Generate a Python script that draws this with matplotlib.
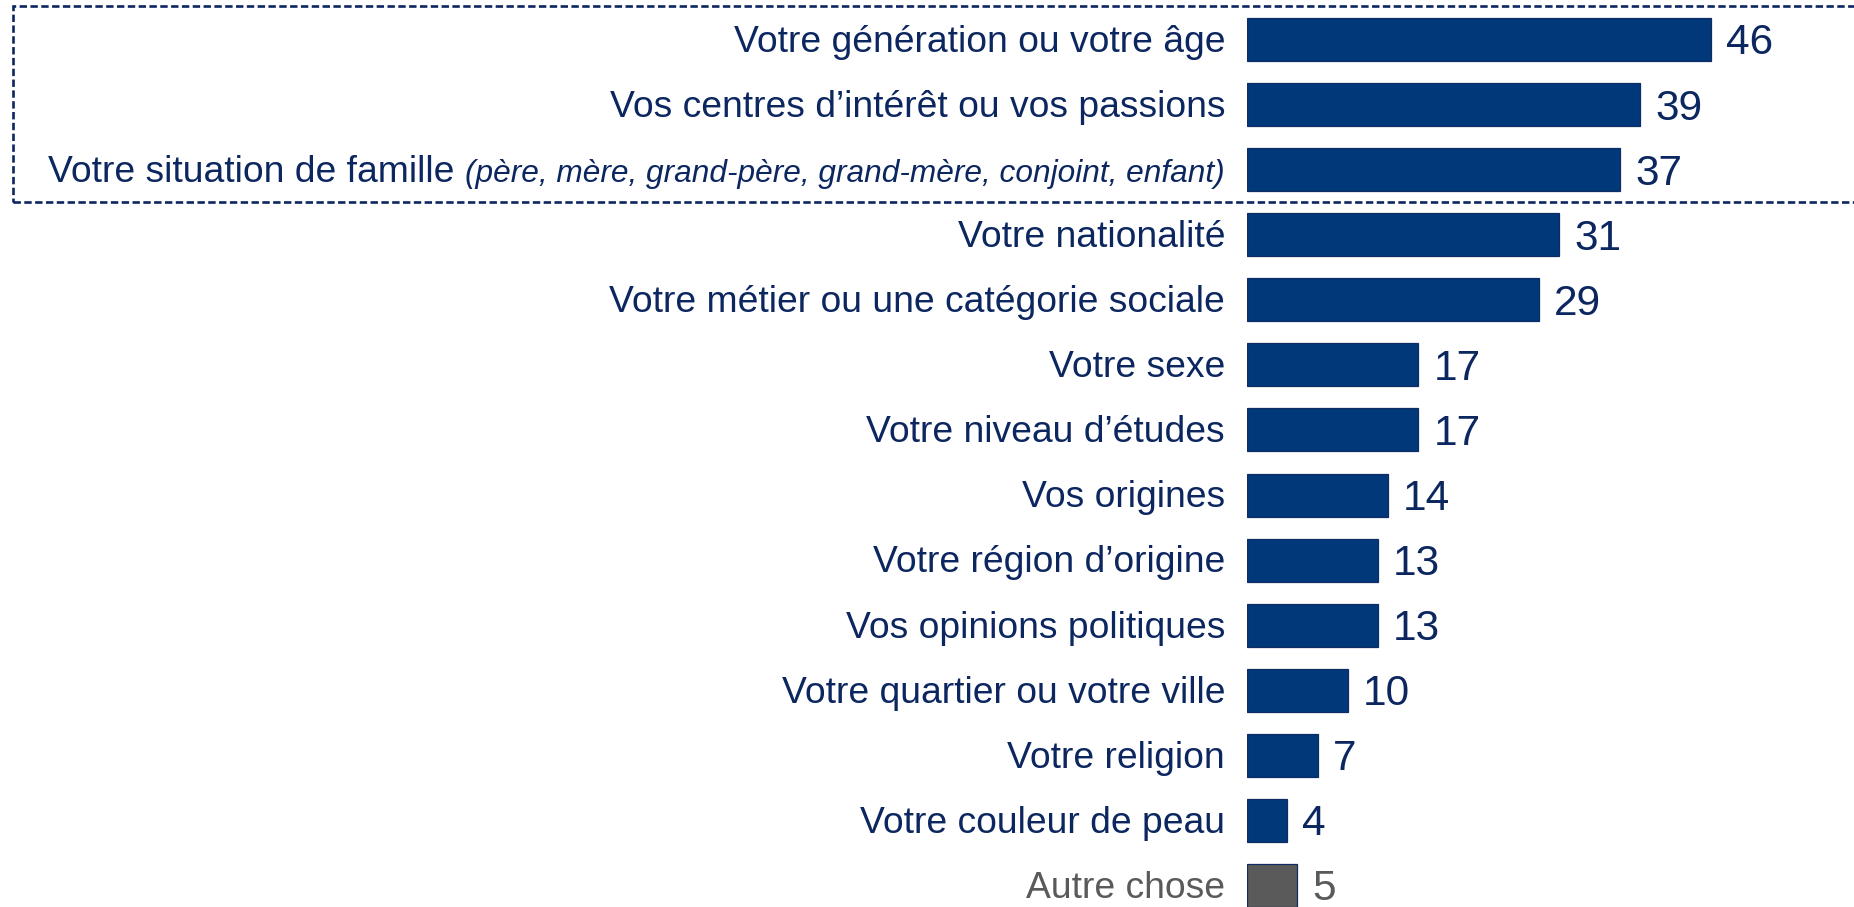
import matplotlib.pyplot as plt
from matplotlib.patches import Rectangle

plt.rcParams['font.family'] = ['Liberation Sans', 'DejaVu Sans']

labels = [
    "Votre génération ou votre âge",
    "Vos centres d\u2019intérêt ou vos passions",
    "Votre situation de famille",
    "Votre nationalité",
    "Votre métier ou une catégorie sociale",
    "Votre sexe",
    "Votre niveau d\u2019études",
    "Vos origines",
    "Votre région d\u2019origine",
    "Vos opinions politiques",
    "Votre quartier ou votre ville",
    "Votre religion",
    "Votre couleur de peau",
    "Autre chose",
]
family_detail = "(père, mère, grand-père, grand-mère, conjoint, enfant)"
values = [46, 39, 37, 31, 29, 17, 17, 14, 13, 13, 10, 7, 4, 5]

navy = "#00387A"
edge = "#0F2D62"
text_navy = "#0C2660"
grey = "#5A5A5A"

fig = plt.figure(figsize=(18.54, 9.07), dpi=100)
ax = fig.add_axes([1247 / 1854, 0, 1 - 1247 / 1854, 1])

n = len(values)
pos = list(range(n))
colors = [navy] * (n - 1) + [grey]
ax.barh(pos, values, height=0.66, color=colors, edgecolor=edge, linewidth=0.9)

ax.set_xlim(0, 607 / 10.08)
ax.set_ylim(13.33, -0.607)
ax.axis("off")

base = 0.19  # baseline offset from bar centre
for i, (lab, v) in enumerate(zip(labels, values)):
    tc = grey if i == n - 1 else text_navy
    # value to the right of the bar
    ax.annotate(str(v), xy=(v, i + 0.23), xytext=(10.8, 0), textcoords="offset points",
                ha="left", va="baseline", fontsize=30.5, color=tc)
    if i == 2:
        it = ax.annotate(family_detail, xy=(0, i + base), xytext=(-15.8, 0),
                         textcoords="offset points", ha="right", va="baseline",
                         fontsize=22.8, style="italic", color=tc)
        ax.annotate(lab, xy=(0, i + base), xycoords=(it, "data"), xytext=(-8, 0),
                    textcoords="offset points", ha="right", va="baseline",
                    fontsize=26.8, color=tc)
    else:
        ax.annotate(lab, xy=(0, i + base), xytext=(-15.8, 0), textcoords="offset points",
                    ha="right", va="baseline", fontsize=26.8, color=tc)

# dashed frame around the top three items
frame = Rectangle((13 / 1854, 1 - 202 / 907), 1.0, 196 / 907, transform=fig.transFigure,
                  fill=False, edgecolor=text_navy, linewidth=1.9,
                  linestyle=(0, (2.8, 1.3)), clip_on=False)
fig.patches.append(frame)

fig.savefig("out.png", dpi=100)
